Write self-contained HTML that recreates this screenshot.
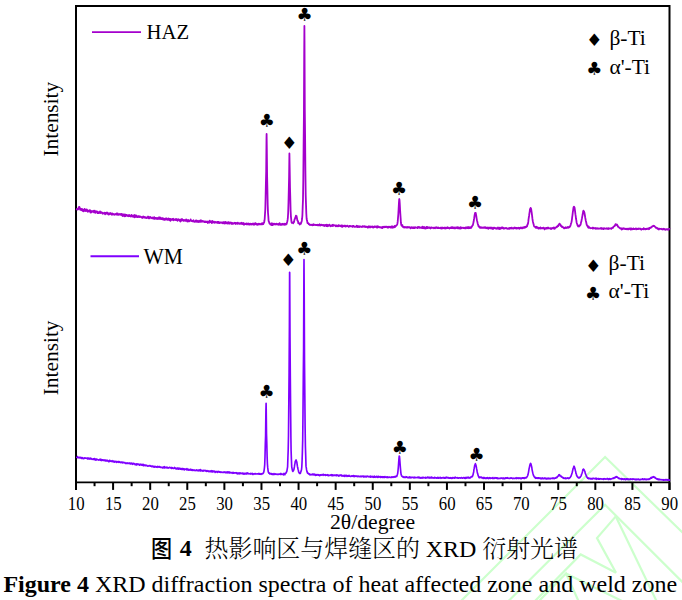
<!DOCTYPE html>
<html lang="zh">
<head>
<meta charset="utf-8">
<title>Figure 4 XRD diffraction spectra of heat affected zone and weld zone</title>
<style>
html,body{margin:0;padding:0;background:#fff;}
body{width:682px;height:600px;overflow:hidden;position:relative;
  font-family:"Liberation Serif","Noto Serif CJK SC",serif;color:#000;}
svg{position:absolute;left:0;top:0;display:block;}
svg text{font-family:"Liberation Serif","Noto Serif CJK SC",serif;fill:#000;}
svg text.sym{font-family:"DejaVu Sans","Liberation Serif",sans-serif;text-anchor:middle;}
.cap{position:absolute;white-space:pre;line-height:1;font-size:24px;}
.cap b{font-weight:bold;}
#cap-cn{left:150.8px;top:536.5px;letter-spacing:-0.07px;}
#cap-cn .tu{font-family:"Liberation Serif","Noto Sans CJK SC",sans-serif;font-weight:500;display:inline-block;width:23px;transform:scaleX(0.88);transform-origin:1px 50%;}
#cap-cn b{position:relative;top:-0.6px;margin-right:1px;}
#cap-cn .zh{font-weight:300;}
#cap-en{left:3.4px;top:571.9px;}
</style>
</head>
<body>
<svg width="682" height="600" viewBox="0 0 682 600">
<rect x="0" y="0" width="682" height="600" fill="#fff"/>

<g fill="none" stroke="#ccffcc" stroke-width="2.2" stroke-linejoin="miter">
<polyline points="461,601 605.1,457 683,533"/>
<polyline points="508.5,601 605.1,504.8 683,582.6"/>
<polyline points="615.8,516.4 597,538.1 616,572.8"/>
<polyline points="615.8,516.4 656.5,601"/>
<polyline points="535,601 580.7,554.4 616,572.8"/>
<polyline points="539,601 566,573.5 578.5,601"/>
<polyline points="566,573.5 622,601"/>
</g>
<!-- frame -->
<g stroke="#000" stroke-width="2" fill="none" stroke-linecap="butt">
<polyline points="76.00,489.9 76.00,6.0 669.50,6.0 669.50,489.9"/>
<line x1="76.00" y1="482.4" x2="669.50" y2="482.4" stroke-width="1.8"/>
<line x1="76.00" y1="482.4" x2="76.00" y2="489.9"/>
<line x1="113.09" y1="482.4" x2="113.09" y2="489.9"/>
<line x1="150.19" y1="482.4" x2="150.19" y2="489.9"/>
<line x1="187.28" y1="482.4" x2="187.28" y2="489.9"/>
<line x1="224.38" y1="482.4" x2="224.38" y2="489.9"/>
<line x1="261.47" y1="482.4" x2="261.47" y2="489.9"/>
<line x1="298.56" y1="482.4" x2="298.56" y2="489.9"/>
<line x1="335.66" y1="482.4" x2="335.66" y2="489.9"/>
<line x1="372.75" y1="482.4" x2="372.75" y2="489.9"/>
<line x1="409.84" y1="482.4" x2="409.84" y2="489.9"/>
<line x1="446.94" y1="482.4" x2="446.94" y2="489.9"/>
<line x1="484.03" y1="482.4" x2="484.03" y2="489.9"/>
<line x1="521.12" y1="482.4" x2="521.12" y2="489.9"/>
<line x1="558.22" y1="482.4" x2="558.22" y2="489.9"/>
<line x1="595.31" y1="482.4" x2="595.31" y2="489.9"/>
<line x1="632.41" y1="482.4" x2="632.41" y2="489.9"/>
<line x1="669.50" y1="482.4" x2="669.50" y2="489.9"/>
<line x1="94.55" y1="482.4" x2="94.55" y2="486.2"/>
<line x1="131.64" y1="482.4" x2="131.64" y2="486.2"/>
<line x1="168.73" y1="482.4" x2="168.73" y2="486.2"/>
<line x1="205.83" y1="482.4" x2="205.83" y2="486.2"/>
<line x1="242.92" y1="482.4" x2="242.92" y2="486.2"/>
<line x1="280.02" y1="482.4" x2="280.02" y2="486.2"/>
<line x1="317.11" y1="482.4" x2="317.11" y2="486.2"/>
<line x1="354.20" y1="482.4" x2="354.20" y2="486.2"/>
<line x1="391.30" y1="482.4" x2="391.30" y2="486.2"/>
<line x1="428.39" y1="482.4" x2="428.39" y2="486.2"/>
<line x1="465.48" y1="482.4" x2="465.48" y2="486.2"/>
<line x1="502.58" y1="482.4" x2="502.58" y2="486.2"/>
<line x1="539.67" y1="482.4" x2="539.67" y2="486.2"/>
<line x1="576.77" y1="482.4" x2="576.77" y2="486.2"/>
<line x1="613.86" y1="482.4" x2="613.86" y2="486.2"/>
<line x1="650.95" y1="482.4" x2="650.95" y2="486.2"/>
</g>
<!-- curves -->
<polyline fill="none" stroke="#a400cc" stroke-width="1.8" stroke-linejoin="round" points="76.6,210.25 76.9,208.98 77.2,209.31 77.5,209.56 77.8,208.87 78.1,209.33 78.4,209.08 78.7,207.18 79.0,207.55 79.3,206.92 79.6,207.26 79.9,208.79 80.2,209.79 80.5,209.50 80.8,209.56 81.1,208.88 81.3,210.12 81.6,209.91 81.9,210.04 82.2,209.01 82.5,210.95 82.8,210.10 83.1,209.83 83.4,211.30 83.7,210.12 84.0,209.33 84.3,210.00 84.6,208.93 84.9,210.95 85.2,210.13 85.5,209.98 85.8,211.10 86.1,209.54 86.4,210.88 86.7,209.39 87.0,210.26 87.3,209.99 87.6,211.61 87.9,211.83 88.2,210.64 88.5,211.38 88.8,210.82 89.1,211.31 89.4,210.58 89.7,210.06 90.0,210.05 90.3,211.38 90.5,212.52 90.8,211.40 91.1,210.98 91.4,212.45 91.7,211.52 92.0,211.48 92.3,211.61 92.6,211.43 92.9,211.37 93.2,210.76 93.5,211.93 93.8,211.62 94.1,212.42 94.4,211.55 94.7,210.69 95.0,211.79 95.3,212.88 95.6,211.70 95.9,211.45 96.2,211.31 96.5,211.44 96.8,211.91 97.1,211.44 97.4,213.03 97.7,212.04 98.0,212.30 98.3,213.11 98.6,213.19 98.9,212.23 99.2,212.58 99.5,212.85 99.7,212.35 100.0,211.47 100.3,212.92 100.6,213.09 100.9,212.85 101.2,212.11 101.5,212.57 101.8,212.38 102.1,212.58 102.4,213.54 102.7,213.71 103.0,213.25 103.3,213.21 103.6,213.32 103.9,212.96 104.2,212.96 104.5,212.65 104.8,213.04 105.1,214.41 105.4,213.64 105.7,212.98 106.0,212.94 106.3,212.75 106.6,213.50 106.9,213.54 107.2,212.53 107.5,213.67 107.8,213.10 108.1,214.27 108.4,213.58 108.6,214.51 108.9,213.30 109.2,213.43 109.5,213.80 109.8,214.27 110.1,214.02 110.4,213.03 110.7,213.87 111.0,213.81 111.3,213.59 111.6,213.50 111.9,214.89 112.2,213.71 112.5,213.49 112.8,214.36 113.1,214.11 113.4,214.03 113.7,214.54 114.0,214.41 114.3,214.37 114.6,214.75 114.9,214.39 115.2,213.92 115.5,214.09 115.8,214.04 116.1,214.48 116.4,213.79 116.7,213.40 117.0,214.51 117.3,213.74 117.6,213.43 117.8,214.77 118.1,214.19 118.4,214.90 118.7,214.35 119.0,214.05 119.3,214.02 119.6,214.46 119.9,214.62 120.2,214.35 120.5,214.68 120.8,214.01 121.1,214.91 121.4,213.93 121.7,214.85 122.0,215.38 122.3,215.63 122.6,216.01 122.9,214.22 123.2,215.54 123.5,215.82 123.8,215.72 124.1,214.69 124.4,215.46 124.7,216.30 125.0,214.46 125.3,215.59 125.6,215.97 125.9,215.00 126.2,215.74 126.5,214.85 126.8,215.02 127.0,215.05 127.3,215.64 127.6,215.51 127.9,216.12 128.2,215.10 128.5,215.58 128.8,216.21 129.1,216.02 129.4,215.01 129.7,216.14 130.0,215.54 130.3,216.04 130.6,216.03 130.9,216.56 131.2,215.98 131.5,214.93 131.8,215.23 132.1,216.41 132.4,215.90 132.7,216.69 133.0,216.25 133.3,215.72 133.6,216.75 133.9,215.74 134.2,215.09 134.5,217.38 134.8,215.23 135.1,216.65 135.4,216.85 135.7,216.44 135.9,215.47 136.2,216.98 136.5,215.67 136.8,215.75 137.1,216.32 137.4,216.97 137.7,216.74 138.0,217.04 138.3,216.39 138.6,216.57 138.9,216.07 139.2,216.55 139.5,217.07 139.8,216.62 140.1,217.07 140.4,216.53 140.7,216.54 141.0,216.92 141.3,216.82 141.6,217.27 141.9,217.08 142.2,217.95 142.5,216.92 142.8,216.94 143.1,216.53 143.4,217.14 143.7,217.52 144.0,216.78 144.3,217.18 144.6,217.62 144.9,217.19 145.1,217.01 145.4,217.84 145.7,217.40 146.0,217.58 146.3,218.03 146.6,218.04 146.9,217.26 147.2,217.19 147.5,217.65 147.8,217.46 148.1,216.54 148.4,218.26 148.7,217.62 149.0,218.03 149.3,217.03 149.6,218.37 149.9,217.39 150.2,217.68 150.5,217.01 150.8,217.70 151.1,217.69 151.4,217.74 151.7,218.09 152.0,217.92 152.3,218.43 152.6,217.69 152.9,217.43 153.2,217.97 153.5,218.34 153.8,218.69 154.1,218.49 154.3,217.15 154.6,218.31 154.9,218.91 155.2,218.19 155.5,217.91 155.8,218.37 156.1,217.97 156.4,218.60 156.7,218.28 157.0,219.04 157.3,218.60 157.6,217.98 157.9,218.70 158.2,218.90 158.5,218.13 158.8,218.23 159.1,217.27 159.4,218.98 159.7,218.22 160.0,217.44 160.3,217.66 160.6,218.49 160.9,219.03 161.2,218.61 161.5,218.93 161.8,218.13 162.1,218.03 162.4,219.22 162.7,219.04 163.0,218.79 163.3,219.50 163.5,218.36 163.8,218.66 164.1,219.44 164.4,219.89 164.7,218.96 165.0,219.85 165.3,218.69 165.6,219.20 165.9,218.96 166.2,218.25 166.5,219.24 166.8,219.61 167.1,219.07 167.4,219.14 167.7,219.92 168.0,218.58 168.3,218.47 168.6,218.93 168.9,218.68 169.2,220.01 169.5,219.50 169.8,218.92 170.1,219.07 170.4,220.88 170.7,219.12 171.0,219.06 171.3,219.64 171.6,219.83 171.9,219.64 172.2,219.08 172.4,218.97 172.7,219.90 173.0,219.59 173.3,218.79 173.6,220.26 173.9,220.08 174.2,219.58 174.5,219.59 174.8,219.86 175.1,219.41 175.4,219.10 175.7,219.97 176.0,219.10 176.3,220.05 176.6,219.14 176.9,219.84 177.2,219.85 177.5,220.85 177.8,219.42 178.1,219.26 178.4,219.67 178.7,219.45 179.0,219.75 179.3,220.28 179.6,220.48 179.9,220.95 180.2,219.76 180.5,221.49 180.8,221.18 181.1,220.09 181.4,219.06 181.7,220.20 181.9,220.30 182.2,219.12 182.5,220.34 182.8,220.22 183.1,219.95 183.4,220.68 183.7,220.89 184.0,220.16 184.3,220.55 184.6,220.12 184.9,220.08 185.2,220.53 185.5,220.78 185.8,220.25 186.1,219.45 186.4,220.87 186.7,219.80 187.0,220.68 187.3,221.53 187.6,220.66 187.9,220.09 188.2,219.98 188.5,221.31 188.8,220.74 189.1,221.04 189.4,221.25 189.7,220.79 190.0,220.68 190.3,220.38 190.6,219.34 190.8,220.14 191.1,220.88 191.4,220.85 191.7,221.16 192.0,220.92 192.3,221.08 192.6,221.41 192.9,220.60 193.2,220.92 193.5,220.28 193.8,221.58 194.1,221.14 194.4,221.38 194.7,221.92 195.0,221.71 195.3,221.16 195.6,221.60 195.9,220.53 196.2,221.46 196.5,221.34 196.8,220.49 197.1,221.96 197.4,220.98 197.7,221.68 198.0,221.15 198.3,221.86 198.6,222.04 198.9,221.00 199.2,220.68 199.5,221.38 199.8,221.88 200.0,221.30 200.3,221.20 200.6,221.75 200.9,220.18 201.2,221.22 201.5,220.89 201.8,221.72 202.1,221.24 202.4,221.07 202.7,221.46 203.0,220.93 203.3,221.66 203.6,221.35 203.9,221.51 204.2,221.37 204.5,222.17 204.8,221.69 205.1,222.02 205.4,222.01 205.7,221.41 206.0,222.09 206.3,222.00 206.6,222.00 206.9,221.67 207.2,221.67 207.5,222.28 207.8,222.96 208.1,221.53 208.4,222.20 208.7,221.79 209.0,222.36 209.2,222.21 209.5,222.52 209.8,220.69 210.1,221.76 210.4,221.59 210.7,222.03 211.0,221.75 211.3,221.81 211.6,222.46 211.9,223.05 212.2,220.81 212.5,222.03 212.8,222.34 213.1,222.21 213.4,222.06 213.7,221.60 214.0,221.81 214.3,222.62 214.6,222.81 214.9,222.36 215.2,221.93 215.5,222.39 215.8,222.25 216.1,222.64 216.4,222.45 216.7,222.11 217.0,222.52 217.3,221.88 217.6,222.85 217.9,223.03 218.2,221.93 218.4,222.70 218.7,222.05 219.0,223.04 219.3,222.98 219.6,222.46 219.9,223.05 220.2,222.40 220.5,222.31 220.8,222.36 221.1,222.58 221.4,222.51 221.7,222.75 222.0,222.41 222.3,223.07 222.6,223.20 222.9,222.51 223.2,222.09 223.5,223.11 223.8,223.32 224.1,222.72 224.4,222.21 224.7,222.96 225.0,223.56 225.3,221.99 225.6,223.10 225.9,222.74 226.2,222.51 226.5,223.15 226.8,222.33 227.1,223.09 227.3,223.57 227.6,223.06 227.9,222.59 228.2,222.18 228.5,222.43 228.8,222.19 229.1,223.79 229.4,222.95 229.7,222.60 230.0,222.50 230.3,222.62 230.6,222.97 230.9,222.55 231.2,223.93 231.5,222.83 231.8,222.83 232.1,223.34 232.4,223.88 232.7,223.84 233.0,223.02 233.3,223.38 233.6,223.34 233.9,223.53 234.2,223.42 234.5,222.89 234.8,222.76 235.1,223.43 235.4,222.82 235.7,224.00 236.0,223.41 236.3,222.94 236.5,223.27 236.8,223.20 237.1,223.38 237.4,223.89 237.7,222.81 238.0,222.63 238.3,223.65 238.6,223.43 238.9,223.59 239.2,223.73 239.5,223.46 239.8,223.92 240.1,223.16 240.4,223.61 240.7,223.21 241.0,223.09 241.3,223.89 241.6,223.88 241.9,222.76 242.2,223.14 242.5,223.78 242.8,224.14 243.1,223.37 243.4,223.60 243.7,223.05 244.0,224.83 244.3,223.92 244.6,224.12 244.9,224.02 245.2,224.15 245.5,224.02 245.7,223.60 246.0,224.09 246.3,223.80 246.6,224.36 246.9,223.46 247.2,223.55 247.5,224.10 247.8,224.38 248.1,223.88 248.4,223.51 248.7,223.78 249.0,223.62 249.3,224.69 249.6,224.26 249.9,224.43 250.2,224.01 250.5,223.64 250.8,224.41 251.1,224.63 251.4,224.16 251.7,223.90 252.0,224.40 252.3,223.77 252.6,224.28 252.9,223.63 253.2,223.53 253.5,224.21 253.8,224.12 254.1,224.82 254.4,223.86 254.7,224.01 254.9,223.50 255.2,223.19 255.5,223.24 255.8,224.23 256.1,223.52 256.4,224.54 256.7,224.67 257.0,223.93 257.3,224.79 257.6,224.17 257.9,224.57 258.2,223.99 258.5,224.51 258.8,223.69 259.1,224.38 259.4,223.92 259.7,224.07 260.0,224.40 260.3,224.19 260.6,224.07 260.9,224.39 261.2,224.41 261.5,223.43 261.8,224.26 262.1,224.29 262.4,223.55 262.7,223.92 263.0,223.04 263.3,224.12 263.6,223.04 263.8,222.73 264.1,222.62 264.4,221.04 264.7,218.81 265.0,214.03 265.3,209.42 265.6,197.25 265.9,183.00 266.2,171.03 266.5,138.51 266.6,133.94 266.8,147.75 267.1,175.46 267.4,189.34 267.7,204.65 268.0,212.75 268.3,216.29 268.6,220.87 268.9,221.55 269.2,222.60 269.5,223.59 269.8,223.15 270.1,223.73 270.4,224.48 270.7,223.97 271.0,224.37 271.3,223.88 271.6,225.01 271.9,223.23 272.2,223.74 272.5,223.81 272.8,224.99 273.0,224.47 273.3,224.22 273.6,223.78 273.9,224.49 274.2,224.39 274.5,224.05 274.8,223.71 275.1,223.88 275.4,224.45 275.7,224.49 276.0,224.39 276.3,224.30 276.6,223.61 276.9,224.39 277.2,223.93 277.5,224.40 277.8,224.58 278.1,224.10 278.4,223.95 278.7,224.82 279.0,224.55 279.3,224.13 279.6,223.12 279.9,224.38 280.2,224.68 280.5,224.89 280.8,224.12 281.1,224.14 281.4,224.23 281.7,224.78 282.0,223.93 282.2,224.38 282.5,224.04 282.8,224.55 283.1,223.76 283.4,224.56 283.7,224.17 284.0,224.27 284.3,224.57 284.6,224.81 284.9,223.58 285.2,224.62 285.5,224.33 285.8,223.86 286.1,224.48 286.4,223.65 286.7,223.82 287.0,222.39 287.3,221.48 287.6,219.94 287.9,217.31 288.2,211.94 288.5,202.03 288.8,189.82 289.1,176.56 289.4,153.80 289.4,153.51 289.7,169.16 290.0,187.59 290.3,197.91 290.6,210.05 290.9,216.06 291.1,218.05 291.4,221.43 291.7,222.92 292.0,222.96 292.3,222.66 292.6,222.76 292.9,222.36 293.2,223.31 293.5,222.26 293.8,222.49 294.1,221.65 294.4,220.05 294.7,219.11 295.0,218.69 295.3,217.50 295.6,216.89 295.9,215.69 296.0,216.84 296.2,216.11 296.5,215.95 296.8,217.49 297.1,218.93 297.4,220.72 297.7,220.64 298.0,221.12 298.3,223.33 298.6,223.03 298.9,223.26 299.2,223.18 299.5,223.38 299.8,224.53 300.1,223.71 300.4,223.37 300.6,223.13 300.9,223.76 301.2,222.31 301.5,222.01 301.8,220.88 302.1,218.73 302.4,215.40 302.7,206.88 303.0,199.34 303.3,179.39 303.6,145.94 303.9,116.16 304.2,53.17 304.4,25.89 304.5,40.52 304.8,109.29 305.1,136.49 305.4,170.89 305.7,194.91 306.0,204.20 306.3,213.22 306.6,218.52 306.9,220.29 307.2,221.29 307.5,223.01 307.8,223.05 308.1,223.23 308.4,223.18 308.7,224.14 309.0,223.96 309.3,224.25 309.5,224.72 309.8,224.61 310.1,225.08 310.4,224.86 310.7,224.63 311.0,224.70 311.3,224.64 311.6,225.12 311.9,224.87 312.2,224.70 312.5,225.23 312.8,224.93 313.1,224.71 313.4,224.28 313.7,225.10 314.0,225.03 314.3,224.96 314.6,224.77 314.9,224.61 315.2,224.88 315.5,225.07 315.8,224.94 316.1,224.94 316.4,224.82 316.7,225.16 317.0,225.13 317.3,224.73 317.6,225.36 317.9,225.39 318.2,225.41 318.5,225.03 318.7,225.01 319.0,224.63 319.3,225.43 319.6,224.25 319.9,224.98 320.2,225.01 320.5,225.51 320.8,225.17 321.1,224.78 321.4,224.60 321.7,224.90 322.0,225.25 322.3,225.24 322.6,225.15 322.9,224.96 323.2,225.17 323.5,225.67 323.8,224.82 324.1,225.30 324.4,225.96 324.7,225.53 325.0,225.13 325.3,225.60 325.6,225.03 325.9,225.35 326.2,225.99 326.5,226.14 326.8,224.68 327.1,225.67 327.4,226.19 327.7,225.19 327.9,225.52 328.2,226.04 328.5,225.24 328.8,225.63 329.1,225.44 329.4,224.69 329.7,225.62 330.0,225.42 330.3,225.88 330.6,226.36 330.9,225.80 331.2,225.38 331.5,225.73 331.8,225.64 332.1,225.98 332.4,224.99 332.7,225.11 333.0,224.77 333.3,225.85 333.6,225.61 333.9,225.37 334.2,225.34 334.5,225.42 334.8,225.28 335.1,225.54 335.4,225.48 335.7,226.25 336.0,225.83 336.3,225.38 336.6,225.49 336.9,226.22 337.1,225.92 337.4,225.87 337.7,226.05 338.0,226.41 338.3,225.29 338.6,225.49 338.9,225.10 339.2,226.01 339.5,225.67 339.8,225.56 340.1,225.54 340.4,226.13 340.7,225.81 341.0,225.66 341.3,226.39 341.6,225.48 341.9,225.40 342.2,226.96 342.5,225.78 342.8,225.72 343.1,225.66 343.4,225.90 343.7,226.28 344.0,226.28 344.3,226.21 344.6,225.89 344.9,225.41 345.2,226.13 345.5,226.64 345.8,226.47 346.0,225.98 346.3,226.38 346.6,225.92 346.9,226.06 347.2,225.60 347.5,225.98 347.8,226.17 348.1,226.05 348.4,226.44 348.7,226.89 349.0,226.68 349.3,226.04 349.6,225.88 349.9,225.92 350.2,225.80 350.5,226.21 350.8,226.38 351.1,226.29 351.4,226.30 351.7,226.30 352.0,226.19 352.3,225.96 352.6,226.95 352.9,226.69 353.2,225.92 353.5,225.93 353.8,226.07 354.1,226.32 354.4,226.82 354.7,226.73 355.0,226.76 355.2,226.78 355.5,226.79 355.8,226.66 356.1,226.55 356.4,226.33 356.7,225.70 357.0,226.35 357.3,227.12 357.6,226.20 357.9,226.18 358.2,226.84 358.5,226.48 358.8,226.26 359.1,227.08 359.4,226.72 359.7,226.78 360.0,226.26 360.3,226.69 360.6,226.65 360.9,226.82 361.2,226.98 361.5,226.97 361.8,226.61 362.1,226.82 362.4,226.11 362.7,226.82 363.0,226.84 363.3,226.43 363.6,226.29 363.9,226.58 364.2,226.13 364.4,226.75 364.7,226.74 365.0,226.26 365.3,226.66 365.6,227.07 365.9,227.08 366.2,227.07 366.5,226.62 366.8,226.56 367.1,226.54 367.4,226.94 367.7,227.64 368.0,227.27 368.3,227.35 368.6,227.27 368.9,226.12 369.2,226.68 369.5,226.60 369.8,227.26 370.1,227.44 370.4,226.53 370.7,226.82 371.0,227.03 371.3,226.63 371.6,226.58 371.9,226.57 372.2,227.19 372.5,226.50 372.8,227.30 373.1,226.90 373.4,227.17 373.6,227.49 373.9,226.63 374.2,226.58 374.5,227.08 374.8,226.52 375.1,226.64 375.4,226.89 375.7,227.00 376.0,226.47 376.3,226.81 376.6,227.19 376.9,227.50 377.2,226.22 377.5,227.50 377.8,227.34 378.1,226.59 378.4,226.45 378.7,227.19 379.0,226.87 379.3,227.09 379.6,227.38 379.9,226.91 380.2,227.13 380.5,227.26 380.8,227.42 381.1,227.77 381.4,227.75 381.7,227.20 382.0,227.02 382.3,228.03 382.5,227.37 382.8,227.30 383.1,226.72 383.4,227.44 383.7,226.85 384.0,226.98 384.3,226.65 384.6,226.97 384.9,227.20 385.2,226.61 385.5,226.85 385.8,227.16 386.1,226.72 386.4,226.72 386.7,226.89 387.0,226.67 387.3,227.45 387.6,226.84 387.9,227.51 388.2,227.57 388.5,226.76 388.8,227.24 389.1,227.04 389.4,226.79 389.7,227.09 390.0,227.12 390.3,227.48 390.6,227.60 390.9,226.78 391.2,227.04 391.5,227.39 391.7,227.62 392.0,226.23 392.3,227.63 392.6,227.06 392.9,227.69 393.2,226.91 393.5,226.73 393.8,227.02 394.1,227.41 394.4,226.92 394.7,225.94 395.0,227.03 395.3,226.06 395.6,226.18 395.9,225.96 396.2,225.50 396.5,225.46 396.8,225.15 397.1,224.64 397.4,223.73 397.7,221.70 398.0,218.16 398.3,214.28 398.6,209.23 398.9,203.48 399.2,199.22 399.3,198.99 399.5,199.84 399.8,204.26 400.1,210.21 400.4,214.77 400.7,219.08 400.9,222.72 401.2,224.56 401.5,225.61 401.8,224.73 402.1,225.95 402.4,225.05 402.7,226.77 403.0,226.67 403.3,226.79 403.6,226.81 403.9,227.44 404.2,226.90 404.5,227.47 404.8,227.33 405.1,227.30 405.4,227.38 405.7,227.28 406.0,226.86 406.3,227.56 406.6,227.59 406.9,227.28 407.2,227.63 407.5,227.71 407.8,226.91 408.1,227.35 408.4,227.25 408.7,227.09 409.0,227.57 409.3,227.14 409.6,227.30 409.9,227.57 410.1,227.62 410.4,227.61 410.7,228.34 411.0,227.32 411.3,227.61 411.6,227.07 411.9,227.71 412.2,227.97 412.5,228.00 412.8,227.31 413.1,227.45 413.4,228.03 413.7,227.53 414.0,227.93 414.3,227.21 414.6,228.10 414.9,227.97 415.2,227.77 415.5,227.30 415.8,227.54 416.1,227.66 416.4,227.71 416.7,227.58 417.0,227.54 417.3,227.70 417.6,228.15 417.9,226.89 418.2,227.13 418.5,227.07 418.8,227.39 419.1,227.00 419.3,227.86 419.6,227.69 419.9,227.57 420.2,227.41 420.5,227.73 420.8,227.74 421.1,227.80 421.4,227.41 421.7,227.92 422.0,227.14 422.3,228.15 422.6,226.55 422.9,227.48 423.2,227.25 423.5,227.99 423.8,227.16 424.1,228.38 424.4,227.14 424.7,228.46 425.0,227.88 425.3,227.73 425.6,227.89 425.9,228.54 426.2,228.06 426.5,226.91 426.8,228.18 427.1,227.83 427.4,227.15 427.7,228.03 428.0,227.30 428.2,227.82 428.5,227.84 428.8,227.52 429.1,228.00 429.4,227.39 429.7,227.84 430.0,227.57 430.3,227.70 430.6,228.48 430.9,227.82 431.2,227.38 431.5,227.74 431.8,227.50 432.1,227.79 432.4,227.85 432.7,227.82 433.0,227.82 433.3,227.59 433.6,227.96 433.9,228.18 434.2,227.57 434.5,227.78 434.8,227.82 435.1,228.26 435.4,228.20 435.7,227.54 436.0,227.84 436.3,227.27 436.6,227.46 436.9,227.82 437.2,228.04 437.4,228.16 437.7,227.71 438.0,227.33 438.3,227.97 438.6,227.76 438.9,227.98 439.2,227.89 439.5,228.09 439.8,228.07 440.1,228.14 440.4,227.67 440.7,228.20 441.0,227.65 441.3,227.87 441.6,228.51 441.9,227.97 442.2,227.42 442.5,228.38 442.8,228.21 443.1,228.26 443.4,227.92 443.7,227.98 444.0,227.77 444.3,227.60 444.6,228.41 444.9,227.72 445.2,227.68 445.5,227.70 445.8,228.53 446.1,228.18 446.4,227.73 446.6,227.85 446.9,228.05 447.2,228.18 447.5,227.29 447.8,228.20 448.1,227.79 448.4,227.63 448.7,227.73 449.0,228.16 449.3,228.51 449.6,227.93 449.9,228.08 450.2,227.59 450.5,228.06 450.8,228.18 451.1,227.35 451.4,227.70 451.7,228.17 452.0,227.26 452.3,227.75 452.6,228.10 452.9,227.29 453.2,227.75 453.5,227.91 453.8,228.21 454.1,227.44 454.4,228.29 454.7,228.00 455.0,228.32 455.3,228.31 455.6,228.02 455.8,228.07 456.1,227.28 456.4,227.42 456.7,227.54 457.0,227.78 457.3,228.23 457.6,227.27 457.9,227.79 458.2,227.43 458.5,227.35 458.8,228.42 459.1,227.94 459.4,228.48 459.7,228.32 460.0,227.57 460.3,227.24 460.6,228.63 460.9,227.75 461.2,227.49 461.5,228.14 461.8,227.94 462.1,227.65 462.4,227.77 462.7,227.94 463.0,227.91 463.3,228.15 463.6,227.75 463.9,227.75 464.2,228.08 464.5,227.98 464.7,228.25 465.0,227.77 465.3,227.82 465.6,227.44 465.9,228.37 466.2,227.34 466.5,227.89 466.8,227.49 467.1,227.92 467.4,228.05 467.7,227.19 468.0,227.68 468.3,227.12 468.6,228.21 468.9,227.53 469.2,227.11 469.5,227.38 469.8,228.05 470.1,228.07 470.4,227.93 470.7,227.13 471.0,227.26 471.3,227.75 471.6,226.71 471.9,226.55 472.2,225.92 472.5,225.26 472.8,225.34 473.1,224.11 473.4,222.77 473.7,221.30 473.9,219.77 474.2,218.16 474.5,215.82 474.8,214.20 475.1,212.93 475.4,213.49 475.4,212.84 475.7,212.90 476.0,214.53 476.3,216.20 476.6,218.30 476.9,220.16 477.2,221.18 477.5,222.62 477.8,224.02 478.1,224.68 478.4,225.82 478.7,226.56 479.0,226.80 479.3,226.49 479.6,226.83 479.9,227.83 480.2,227.13 480.5,227.81 480.8,227.83 481.1,227.55 481.4,227.35 481.7,227.81 482.0,227.46 482.3,227.73 482.6,227.85 482.9,227.59 483.1,227.78 483.4,227.77 483.7,227.46 484.0,227.84 484.3,227.70 484.6,227.30 484.9,227.82 485.2,227.85 485.5,227.75 485.8,227.26 486.1,228.25 486.4,228.22 486.7,228.22 487.0,228.11 487.3,227.57 487.6,228.05 487.9,227.70 488.2,228.78 488.5,227.85 488.8,228.26 489.1,227.51 489.4,227.64 489.7,227.86 490.0,228.29 490.3,228.24 490.6,228.16 490.9,227.43 491.2,228.45 491.5,227.75 491.8,228.63 492.1,228.72 492.3,228.36 492.6,228.42 492.9,227.66 493.2,228.97 493.5,228.17 493.8,228.44 494.1,227.81 494.4,228.08 494.7,227.70 495.0,228.02 495.3,228.11 495.6,228.20 495.9,228.59 496.2,228.28 496.5,228.20 496.8,228.13 497.1,228.80 497.4,227.93 497.7,228.53 498.0,227.46 498.3,227.83 498.6,228.27 498.9,228.08 499.2,229.15 499.5,229.01 499.8,227.62 500.1,227.78 500.4,228.09 500.7,228.73 501.0,228.53 501.2,228.25 501.5,227.67 501.8,227.86 502.1,227.24 502.4,227.63 502.7,228.29 503.0,228.42 503.3,227.71 503.6,228.19 503.9,228.70 504.2,228.21 504.5,228.05 504.8,228.36 505.1,228.33 505.4,228.18 505.7,227.98 506.0,228.02 506.3,228.19 506.6,227.98 506.9,228.61 507.2,228.46 507.5,228.53 507.8,228.84 508.1,228.69 508.4,228.64 508.7,228.29 509.0,228.10 509.3,228.93 509.6,227.94 509.9,227.95 510.2,227.87 510.4,228.23 510.7,228.30 511.0,228.50 511.3,228.08 511.6,227.58 511.9,228.26 512.2,228.48 512.5,228.17 512.8,228.11 513.1,228.34 513.4,228.63 513.7,228.13 514.0,227.68 514.3,227.96 514.6,228.09 514.9,227.54 515.2,228.40 515.5,227.88 515.8,228.30 516.1,228.20 516.4,228.02 516.7,228.67 517.0,227.93 517.3,227.89 517.6,228.21 517.9,228.38 518.2,228.10 518.5,227.77 518.8,228.32 519.1,228.28 519.4,228.76 519.6,227.99 519.9,228.13 520.2,227.86 520.5,227.54 520.8,228.05 521.1,228.29 521.4,227.66 521.7,227.76 522.0,227.57 522.3,228.39 522.6,227.71 522.9,228.09 523.2,227.58 523.5,227.86 523.8,227.59 524.1,226.98 524.4,227.74 524.7,227.83 525.0,226.90 525.3,227.45 525.6,227.26 525.9,226.90 526.2,226.99 526.5,226.15 526.8,226.51 527.1,226.31 527.4,224.78 527.7,224.26 528.0,223.59 528.3,221.66 528.5,219.67 528.8,217.51 529.1,215.73 529.4,213.38 529.7,211.59 530.0,208.99 530.3,208.87 530.6,207.92 530.6,208.35 530.9,208.31 531.2,209.37 531.5,211.49 531.8,213.50 532.1,215.95 532.4,218.48 532.7,220.60 533.0,222.00 533.3,223.16 533.6,224.34 533.9,225.57 534.2,226.42 534.5,226.42 534.8,226.84 535.1,226.89 535.4,227.39 535.7,227.77 536.0,226.61 536.3,227.72 536.6,227.52 536.9,227.00 537.2,227.91 537.5,227.82 537.8,228.00 538.0,227.47 538.3,228.63 538.6,228.00 538.9,227.88 539.2,228.50 539.5,228.24 539.8,228.31 540.1,228.44 540.4,227.41 540.7,228.63 541.0,227.99 541.3,228.20 541.6,228.42 541.9,227.90 542.2,228.24 542.5,228.39 542.8,228.14 543.1,228.32 543.4,227.65 543.7,227.79 544.0,227.81 544.3,228.30 544.6,229.39 544.9,228.28 545.2,228.15 545.5,228.18 545.8,228.52 546.1,228.43 546.4,227.84 546.7,228.53 546.9,228.20 547.2,228.47 547.5,227.57 547.8,227.72 548.1,228.41 548.4,227.64 548.7,228.34 549.0,228.32 549.3,228.26 549.6,228.33 549.9,228.30 550.2,228.35 550.5,228.08 550.8,228.20 551.1,229.13 551.4,228.56 551.7,228.39 552.0,228.31 552.3,227.95 552.6,228.25 552.9,228.09 553.2,228.45 553.5,227.85 553.8,227.37 554.1,227.92 554.4,228.29 554.7,228.82 555.0,228.31 555.3,227.60 555.6,227.75 555.9,227.40 556.1,227.49 556.4,227.06 556.7,226.58 557.0,226.96 557.3,226.54 557.6,226.05 557.9,225.83 558.2,225.98 558.5,224.98 558.8,224.49 559.1,224.67 559.4,223.72 559.5,224.51 559.7,224.04 560.0,224.18 560.3,224.75 560.6,225.61 560.9,225.20 561.2,226.14 561.5,226.34 561.8,226.12 562.1,227.16 562.4,226.87 562.7,226.88 563.0,227.26 563.3,227.41 563.6,227.93 563.9,227.58 564.2,228.33 564.5,227.95 564.8,227.68 565.1,227.65 565.3,227.98 565.6,227.26 565.9,227.20 566.2,227.59 566.5,228.04 566.8,227.87 567.1,227.79 567.4,227.67 567.7,227.01 568.0,227.53 568.3,227.00 568.6,227.73 568.9,227.35 569.2,227.16 569.5,227.10 569.8,226.78 570.1,226.34 570.4,225.81 570.7,224.75 571.0,223.50 571.3,222.79 571.6,221.60 571.9,219.60 572.2,217.06 572.5,215.05 572.8,212.30 573.1,210.33 573.4,208.01 573.7,206.92 574.0,207.04 574.0,206.55 574.2,207.14 574.5,207.40 574.8,209.20 575.1,211.61 575.4,214.17 575.7,216.21 576.0,218.79 576.3,220.17 576.6,222.43 576.9,223.62 577.2,223.97 577.5,225.29 577.8,225.59 578.1,226.37 578.4,226.10 578.7,226.47 579.0,226.54 579.3,225.39 579.6,225.43 579.9,225.71 580.2,225.12 580.5,224.80 580.8,223.68 581.1,222.11 581.4,221.36 581.7,219.55 582.0,218.14 582.3,216.38 582.6,215.04 582.9,212.92 583.2,211.84 583.4,210.69 583.7,212.09 583.7,210.95 584.0,211.40 584.3,212.23 584.6,213.75 584.9,215.41 585.2,217.47 585.5,219.01 585.8,220.66 586.1,221.80 586.4,223.23 586.7,224.71 587.0,225.19 587.3,225.99 587.6,225.80 587.9,227.01 588.2,227.24 588.5,227.79 588.8,226.72 589.1,227.71 589.4,227.76 589.7,227.91 590.0,227.76 590.3,228.07 590.6,228.26 590.9,228.10 591.2,228.04 591.5,228.10 591.8,228.07 592.1,228.23 592.4,228.02 592.6,227.66 592.9,228.69 593.2,227.77 593.5,228.29 593.8,227.94 594.1,228.27 594.4,228.08 594.7,228.37 595.0,228.14 595.3,228.01 595.6,228.51 595.9,228.83 596.2,228.54 596.5,228.48 596.8,228.14 597.1,228.44 597.4,228.60 597.7,228.28 598.0,228.75 598.3,228.48 598.6,228.60 598.9,228.36 599.2,228.36 599.5,228.58 599.8,228.64 600.1,228.63 600.4,228.23 600.7,228.32 601.0,228.54 601.3,227.99 601.6,228.86 601.8,228.65 602.1,228.57 602.4,228.35 602.7,228.81 603.0,228.49 603.3,229.14 603.6,228.69 603.9,228.14 604.2,228.80 604.5,228.43 604.8,228.43 605.1,228.52 605.4,228.55 605.7,228.66 606.0,228.82 606.3,228.73 606.6,228.38 606.9,228.19 607.2,228.35 607.5,228.69 607.8,228.84 608.1,229.11 608.4,228.18 608.7,228.60 609.0,228.50 609.3,228.44 609.6,228.59 609.9,228.46 610.2,228.43 610.5,228.30 610.8,228.57 611.0,228.72 611.3,228.82 611.6,228.11 611.9,227.84 612.2,227.94 612.5,227.61 612.8,227.96 613.1,227.17 613.4,227.15 613.7,226.41 614.0,226.37 614.3,226.17 614.6,226.21 614.9,225.18 615.2,225.18 615.5,224.18 615.8,224.28 616.1,224.34 616.1,224.44 616.4,224.78 616.7,225.01 617.0,224.59 617.3,225.56 617.6,225.42 617.9,226.68 618.2,226.60 618.5,226.90 618.8,227.12 619.1,227.46 619.4,227.72 619.7,227.73 619.9,228.32 620.2,228.33 620.5,228.58 620.8,228.43 621.1,228.72 621.4,228.36 621.7,229.65 622.0,228.45 622.3,228.55 622.6,228.98 622.9,229.08 623.2,228.51 623.5,228.27 623.8,228.36 624.1,228.49 624.4,228.56 624.7,228.75 625.0,229.10 625.3,229.12 625.6,228.64 625.9,228.98 626.2,229.09 626.5,229.25 626.8,228.80 627.1,228.64 627.4,229.08 627.7,229.30 628.0,228.72 628.3,229.44 628.6,229.37 628.9,228.81 629.1,228.44 629.4,228.73 629.7,228.80 630.0,229.06 630.3,228.43 630.6,229.61 630.9,229.59 631.2,228.71 631.5,228.39 631.8,228.88 632.1,229.05 632.4,229.32 632.7,229.14 633.0,228.89 633.3,228.39 633.6,229.10 633.9,229.19 634.2,228.87 634.5,229.04 634.8,229.02 635.1,228.90 635.4,228.64 635.7,229.07 636.0,228.57 636.3,229.37 636.6,228.73 636.9,229.12 637.2,228.78 637.5,229.09 637.8,228.93 638.1,229.14 638.3,228.77 638.6,228.54 638.9,228.92 639.2,228.90 639.5,228.58 639.8,228.81 640.1,228.53 640.4,229.04 640.7,228.90 641.0,229.01 641.3,229.74 641.6,229.06 641.9,229.12 642.2,229.19 642.5,228.97 642.8,228.85 643.1,229.26 643.4,229.30 643.7,228.19 644.0,228.96 644.3,228.91 644.6,228.84 644.9,229.35 645.2,228.84 645.5,229.23 645.8,228.83 646.1,228.85 646.4,229.16 646.7,228.73 647.0,228.87 647.2,228.58 647.5,228.61 647.8,229.01 648.1,228.92 648.4,228.37 648.7,228.27 649.0,229.22 649.3,228.21 649.6,228.01 649.9,228.24 650.2,227.70 650.5,227.63 650.8,227.77 651.1,227.58 651.4,227.02 651.7,227.23 652.0,226.58 652.3,226.35 652.6,226.24 652.9,226.02 653.2,226.18 653.5,226.08 653.5,225.77 653.8,226.08 654.1,225.95 654.4,226.08 654.7,226.38 655.0,226.92 655.3,226.93 655.6,227.45 655.9,227.76 656.2,227.54 656.5,227.60 656.7,227.75 657.0,228.23 657.3,228.56 657.6,228.90 657.9,228.23 658.2,228.95 658.5,229.08 658.8,229.53 659.1,228.98 659.4,228.97 659.7,228.60 660.0,228.84 660.3,228.78 660.6,228.83 660.9,228.88 661.2,228.72 661.5,229.13 661.8,229.28 662.1,229.39 662.4,229.17 662.7,229.49 663.0,229.50 663.3,228.80 663.6,229.15 663.9,228.89 664.2,228.97 664.5,229.30 664.8,229.22 665.1,229.66 665.4,229.82 665.6,229.38 665.9,229.22 666.2,229.24 666.5,229.28 666.8,229.45 667.1,229.10 667.4,229.46 667.7,229.24 668.0,229.59 668.3,229.68 668.6,229.78 668.9,229.28 669.2,228.96 669.5,228.87 669.8,229.25"/>
<polyline fill="none" stroke="#7f00ff" stroke-width="1.65" stroke-linejoin="round" points="76.6,458.16 76.9,457.44 77.2,457.38 77.5,456.62 77.8,457.59 78.1,457.49 78.4,457.43 78.7,457.76 79.0,457.82 79.3,457.30 79.6,457.39 79.9,457.56 80.2,458.00 80.5,457.98 80.8,457.33 81.1,457.43 81.3,458.12 81.6,458.44 81.9,457.89 82.2,457.69 82.5,458.35 82.8,457.88 83.1,458.28 83.4,458.60 83.7,458.30 84.0,458.13 84.3,458.39 84.6,457.93 84.9,458.13 85.2,458.02 85.5,458.18 85.8,458.11 86.1,458.24 86.4,458.20 86.7,458.40 87.0,458.42 87.3,458.53 87.6,458.96 87.9,457.94 88.2,458.98 88.5,458.46 88.8,458.14 89.1,458.55 89.4,458.67 89.7,459.05 90.0,458.32 90.3,458.80 90.5,458.80 90.8,458.19 91.1,458.40 91.4,459.06 91.7,459.13 92.0,459.30 92.3,459.13 92.6,459.11 92.9,459.05 93.2,459.46 93.5,458.77 93.8,459.05 94.1,459.27 94.4,458.61 94.7,459.66 95.0,458.95 95.3,459.24 95.6,460.05 95.9,459.04 96.2,459.17 96.5,459.94 96.8,459.05 97.1,459.31 97.4,459.68 97.7,459.69 98.0,459.77 98.3,459.73 98.6,460.11 98.9,460.02 99.2,459.91 99.5,459.50 99.7,459.52 100.0,459.14 100.3,460.08 100.6,459.24 100.9,460.22 101.2,460.59 101.5,459.61 101.8,459.78 102.1,459.89 102.4,460.38 102.7,459.82 103.0,460.12 103.3,460.01 103.6,460.14 103.9,460.72 104.2,459.97 104.5,460.36 104.8,460.47 105.1,460.71 105.4,460.00 105.7,460.87 106.0,460.67 106.3,460.86 106.6,460.61 106.9,460.05 107.2,460.43 107.5,460.98 107.8,460.74 108.1,460.75 108.4,461.42 108.6,461.60 108.9,460.86 109.2,461.58 109.5,460.25 109.8,460.27 110.1,461.32 110.4,460.96 110.7,461.29 111.0,461.30 111.3,461.13 111.6,461.43 111.9,461.28 112.2,460.73 112.5,461.38 112.8,461.40 113.1,462.01 113.4,461.02 113.7,461.45 114.0,461.33 114.3,461.47 114.6,462.12 114.9,461.72 115.2,461.46 115.5,461.71 115.8,461.96 116.1,461.39 116.4,461.67 116.7,462.33 117.0,462.13 117.3,461.86 117.6,461.75 117.8,461.89 118.1,461.45 118.4,462.34 118.7,462.17 119.0,462.14 119.3,461.68 119.6,461.92 119.9,462.38 120.2,462.33 120.5,462.11 120.8,462.49 121.1,462.67 121.4,462.16 121.7,462.24 122.0,462.16 122.3,462.10 122.6,462.81 122.9,462.75 123.2,462.73 123.5,462.25 123.8,462.33 124.1,462.70 124.4,462.62 124.7,462.84 125.0,462.60 125.3,463.10 125.6,463.53 125.9,463.48 126.2,463.54 126.5,463.05 126.8,463.38 127.0,462.97 127.3,463.45 127.6,463.05 127.9,463.05 128.2,463.03 128.5,463.53 128.8,463.42 129.1,463.43 129.4,463.02 129.7,463.49 130.0,462.99 130.3,464.02 130.6,463.51 130.9,463.66 131.2,463.60 131.5,463.13 131.8,463.24 132.1,463.74 132.4,464.29 132.7,463.45 133.0,463.62 133.3,463.88 133.6,463.37 133.9,463.40 134.2,463.87 134.5,464.04 134.8,463.96 135.1,464.64 135.4,464.11 135.7,464.32 135.9,464.78 136.2,464.85 136.5,463.78 136.8,464.23 137.1,464.78 137.4,463.97 137.7,464.16 138.0,464.07 138.3,464.09 138.6,464.20 138.9,464.68 139.2,465.08 139.5,465.21 139.8,464.74 140.1,464.11 140.4,464.79 140.7,464.73 141.0,465.00 141.3,464.88 141.6,464.36 141.9,465.14 142.2,464.34 142.5,464.84 142.8,465.21 143.1,465.26 143.4,465.71 143.7,464.43 144.0,465.37 144.3,465.53 144.6,465.22 144.9,465.58 145.1,465.04 145.4,465.66 145.7,465.66 146.0,465.19 146.3,465.33 146.6,465.53 146.9,465.41 147.2,466.01 147.5,465.76 147.8,466.17 148.1,466.16 148.4,465.83 148.7,465.78 149.0,465.56 149.3,465.65 149.6,465.68 149.9,466.10 150.2,465.73 150.5,466.08 150.8,466.16 151.1,465.96 151.4,466.10 151.7,466.68 152.0,466.77 152.3,466.01 152.6,466.24 152.9,466.22 153.2,466.29 153.5,466.92 153.8,466.67 154.1,466.90 154.3,467.10 154.6,466.41 154.9,466.52 155.2,466.63 155.5,466.99 155.8,466.66 156.1,466.93 156.4,467.14 156.7,467.17 157.0,466.97 157.3,466.59 157.6,466.37 157.9,467.28 158.2,467.09 158.5,466.67 158.8,466.84 159.1,466.89 159.4,466.51 159.7,467.17 160.0,466.86 160.3,467.05 160.6,467.42 160.9,467.17 161.2,467.40 161.5,467.39 161.8,467.29 162.1,467.32 162.4,467.93 162.7,467.29 163.0,467.90 163.3,467.10 163.5,467.66 163.8,467.50 164.1,467.23 164.4,466.62 164.7,468.03 165.0,467.15 165.3,467.24 165.6,467.61 165.9,467.61 166.2,467.70 166.5,467.55 166.8,467.17 167.1,467.96 167.4,467.40 167.7,467.79 168.0,467.93 168.3,468.14 168.6,467.71 168.9,467.70 169.2,467.75 169.5,467.25 169.8,467.62 170.1,467.57 170.4,467.54 170.7,467.99 171.0,467.86 171.3,468.50 171.6,468.49 171.9,467.42 172.2,468.09 172.4,467.76 172.7,468.28 173.0,468.18 173.3,468.45 173.6,468.28 173.9,468.45 174.2,468.13 174.5,467.45 174.8,467.90 175.1,468.03 175.4,468.18 175.7,468.04 176.0,468.92 176.3,468.36 176.6,468.86 176.9,468.36 177.2,469.03 177.5,468.14 177.8,468.75 178.1,468.16 178.4,468.75 178.7,469.15 179.0,468.14 179.3,468.42 179.6,468.80 179.9,468.69 180.2,468.34 180.5,469.18 180.8,468.85 181.1,469.28 181.4,469.00 181.7,468.55 181.9,468.80 182.2,469.42 182.5,468.56 182.8,468.89 183.1,469.26 183.4,469.42 183.7,469.38 184.0,468.68 184.3,469.84 184.6,469.15 184.9,469.24 185.2,469.26 185.5,469.22 185.8,469.01 186.1,469.24 186.4,469.80 186.7,468.97 187.0,468.66 187.3,469.63 187.6,469.60 187.9,469.75 188.2,470.09 188.5,469.34 188.8,469.66 189.1,469.79 189.4,470.05 189.7,470.01 190.0,469.45 190.3,469.31 190.6,469.68 190.8,469.29 191.1,470.17 191.4,469.73 191.7,469.77 192.0,469.62 192.3,470.41 192.6,470.05 192.9,469.85 193.2,470.20 193.5,470.01 193.8,470.25 194.1,470.50 194.4,470.03 194.7,470.30 195.0,470.31 195.3,470.55 195.6,470.40 195.9,470.25 196.2,470.06 196.5,470.38 196.8,469.98 197.1,470.54 197.4,470.37 197.7,470.55 198.0,470.24 198.3,470.17 198.6,470.16 198.9,470.82 199.2,470.42 199.5,470.44 199.8,469.98 200.0,470.54 200.3,469.50 200.6,471.03 200.9,470.55 201.2,470.65 201.5,470.22 201.8,470.35 202.1,470.90 202.4,470.67 202.7,470.89 203.0,471.17 203.3,471.00 203.6,470.23 203.9,470.53 204.2,470.51 204.5,470.60 204.8,470.26 205.1,470.29 205.4,470.72 205.7,470.78 206.0,471.15 206.3,470.91 206.6,471.47 206.9,470.49 207.2,470.64 207.5,471.17 207.8,471.03 208.1,470.83 208.4,471.40 208.7,471.52 209.0,471.61 209.2,471.10 209.5,471.24 209.8,471.34 210.1,471.31 210.4,471.62 210.7,471.18 211.0,471.47 211.3,470.69 211.6,471.63 211.9,471.92 212.2,471.43 212.5,471.78 212.8,470.97 213.1,471.40 213.4,471.05 213.7,471.64 214.0,471.73 214.3,471.16 214.6,471.35 214.9,471.45 215.2,472.39 215.5,471.65 215.8,471.73 216.1,471.82 216.4,471.83 216.7,471.68 217.0,471.37 217.3,471.59 217.6,472.32 217.9,471.92 218.2,471.75 218.4,471.47 218.7,471.88 219.0,471.93 219.3,471.74 219.6,472.23 219.9,471.80 220.2,471.95 220.5,472.28 220.8,472.11 221.1,472.41 221.4,472.01 221.7,471.97 222.0,472.27 222.3,472.21 222.6,472.52 222.9,472.31 223.2,472.19 223.5,472.36 223.8,472.44 224.1,471.92 224.4,472.24 224.7,472.20 225.0,472.68 225.3,472.19 225.6,472.68 225.9,472.00 226.2,472.38 226.5,472.74 226.8,472.36 227.1,472.80 227.3,471.86 227.6,472.50 227.9,472.56 228.2,472.49 228.5,472.10 228.8,472.77 229.1,471.89 229.4,472.90 229.7,472.72 230.0,472.95 230.3,472.59 230.6,472.35 230.9,472.55 231.2,472.59 231.5,472.92 231.8,472.67 232.1,472.91 232.4,472.95 232.7,473.25 233.0,472.24 233.3,472.74 233.6,473.09 233.9,473.11 234.2,472.75 234.5,472.86 234.8,472.93 235.1,473.01 235.4,472.83 235.7,472.82 236.0,472.70 236.3,472.93 236.5,473.48 236.8,472.80 237.1,473.39 237.4,473.70 237.7,473.20 238.0,473.86 238.3,473.13 238.6,473.68 238.9,473.19 239.2,472.86 239.5,473.34 239.8,473.81 240.1,473.09 240.4,473.42 240.7,473.00 241.0,473.04 241.3,473.45 241.6,473.28 241.9,473.51 242.2,473.73 242.5,473.02 242.8,473.18 243.1,473.41 243.4,474.09 243.7,473.32 244.0,473.29 244.3,473.57 244.6,474.08 244.9,473.29 245.2,473.38 245.5,473.50 245.7,473.72 246.0,474.15 246.3,473.15 246.6,473.04 246.9,473.58 247.2,473.70 247.5,472.90 247.8,473.39 248.1,473.86 248.4,473.43 248.7,473.74 249.0,473.66 249.3,473.81 249.6,473.75 249.9,473.71 250.2,474.01 250.5,473.49 250.8,473.70 251.1,474.01 251.4,473.52 251.7,473.59 252.0,473.48 252.3,473.44 252.6,474.32 252.9,473.87 253.2,474.29 253.5,473.97 253.8,473.79 254.1,473.69 254.4,473.86 254.7,473.78 254.9,474.07 255.2,473.56 255.5,473.87 255.8,473.96 256.1,473.77 256.4,473.78 256.7,474.01 257.0,474.03 257.3,473.84 257.6,473.88 257.9,473.73 258.2,474.06 258.5,473.87 258.8,473.46 259.1,473.83 259.4,474.11 259.7,474.01 260.0,473.66 260.3,474.11 260.6,474.06 260.9,474.05 261.2,474.30 261.5,473.74 261.8,473.95 262.1,473.60 262.4,473.86 262.7,473.81 263.0,473.41 263.3,473.19 263.6,472.35 263.8,472.01 264.1,470.30 264.4,468.05 264.7,464.85 265.0,456.83 265.3,444.41 265.6,435.52 265.9,411.25 266.1,403.31 266.2,408.55 266.5,433.41 266.8,443.34 267.1,455.69 267.4,463.74 267.7,467.38 268.0,469.89 268.3,472.12 268.6,472.51 268.9,473.14 269.2,472.82 269.5,473.03 269.8,473.95 270.1,473.39 270.4,473.76 270.7,473.85 271.0,473.71 271.3,474.05 271.6,473.61 271.9,473.70 272.2,474.33 272.5,473.85 272.8,474.31 273.0,474.29 273.3,474.54 273.6,474.24 273.9,473.58 274.2,473.93 274.5,474.00 274.8,474.47 275.1,474.22 275.4,473.98 275.7,474.25 276.0,474.02 276.3,474.29 276.6,474.18 276.9,474.45 277.2,474.23 277.5,474.42 277.8,474.14 278.1,474.35 278.4,474.10 278.7,474.33 279.0,474.21 279.3,474.12 279.6,474.03 279.9,474.08 280.2,474.29 280.5,473.50 280.8,474.52 281.1,473.49 281.4,474.11 281.7,474.07 282.0,474.38 282.2,474.24 282.5,474.16 282.8,474.20 283.1,474.45 283.4,474.79 283.7,474.17 284.0,473.41 284.3,473.82 284.6,474.00 284.9,474.77 285.2,473.49 285.5,473.30 285.8,473.27 286.1,472.90 286.4,472.02 286.7,471.82 287.0,470.29 287.3,468.64 287.6,466.93 287.9,457.94 288.2,449.78 288.5,435.22 288.8,404.04 289.1,372.05 289.4,325.94 289.6,272.20 289.7,272.93 290.0,336.76 290.3,375.21 290.6,407.55 290.9,437.50 291.1,450.63 291.4,459.10 291.7,466.60 292.0,468.33 292.3,469.80 292.6,471.07 292.9,471.41 293.2,470.61 293.5,470.50 293.8,469.90 294.1,468.50 294.4,466.95 294.7,464.69 295.0,463.31 295.3,461.21 295.6,461.05 295.9,460.09 296.0,460.56 296.2,460.06 296.5,461.41 296.8,461.96 297.1,464.03 297.4,466.14 297.7,467.79 298.0,469.18 298.3,469.97 298.6,471.84 298.9,472.38 299.2,473.02 299.5,473.35 299.8,472.89 300.1,472.97 300.4,473.42 300.6,472.16 300.9,471.77 301.2,470.61 301.5,469.77 301.8,466.99 302.1,460.81 302.4,451.44 302.7,440.15 303.0,412.68 303.3,376.94 303.6,347.55 303.9,272.11 304.0,259.63 304.2,291.49 304.5,359.65 304.8,392.45 305.1,426.13 305.4,446.04 305.7,455.61 306.0,466.13 306.3,467.78 306.6,469.88 306.9,471.31 307.2,472.20 307.5,473.10 307.8,472.91 308.1,473.47 308.4,473.79 308.7,473.61 309.0,473.69 309.3,474.34 309.5,474.44 309.8,474.13 310.1,474.87 310.4,474.77 310.7,474.65 311.0,474.70 311.3,474.64 311.6,474.76 311.9,474.81 312.2,474.59 312.5,473.99 312.8,474.54 313.1,474.36 313.4,474.27 313.7,474.79 314.0,474.12 314.3,474.88 314.6,474.47 314.9,474.31 315.2,474.42 315.5,475.35 315.8,475.12 316.1,474.62 316.4,475.02 316.7,475.24 317.0,474.49 317.3,474.67 317.6,475.03 317.9,474.89 318.2,474.68 318.5,475.26 318.7,474.95 319.0,475.05 319.3,475.51 319.6,474.98 319.9,475.61 320.2,474.95 320.5,474.83 320.8,474.93 321.1,475.15 321.4,475.10 321.7,475.03 322.0,474.51 322.3,474.63 322.6,474.88 322.9,475.18 323.2,475.39 323.5,474.31 323.8,474.96 324.1,474.88 324.4,474.99 324.7,475.09 325.0,474.80 325.3,474.68 325.6,475.36 325.9,475.29 326.2,474.97 326.5,475.07 326.8,474.92 327.1,474.72 327.4,475.32 327.7,474.96 327.9,474.84 328.2,475.00 328.5,475.65 328.8,475.32 329.1,475.27 329.4,475.24 329.7,475.47 330.0,475.44 330.3,474.88 330.6,475.19 330.9,475.08 331.2,475.34 331.5,475.27 331.8,474.73 332.1,475.64 332.4,475.40 332.7,474.84 333.0,475.67 333.3,475.39 333.6,475.50 333.9,475.39 334.2,475.43 334.5,475.26 334.8,474.94 335.1,475.25 335.4,475.48 335.7,475.45 336.0,475.64 336.3,475.44 336.6,474.84 336.9,475.69 337.1,475.27 337.4,475.13 337.7,475.43 338.0,475.14 338.3,475.64 338.6,475.29 338.9,476.11 339.2,475.50 339.5,475.42 339.8,475.41 340.1,474.99 340.4,475.37 340.7,475.41 341.0,475.54 341.3,475.02 341.6,475.67 341.9,476.03 342.2,475.56 342.5,475.68 342.8,475.82 343.1,475.49 343.4,475.60 343.7,476.01 344.0,475.80 344.3,475.42 344.6,475.27 344.9,476.43 345.2,475.92 345.5,475.36 345.8,475.86 346.0,476.02 346.3,475.88 346.6,475.33 346.9,476.37 347.2,476.05 347.5,475.83 347.8,476.09 348.1,475.85 348.4,475.83 348.7,476.18 349.0,475.39 349.3,476.24 349.6,476.08 349.9,476.19 350.2,476.24 350.5,476.43 350.8,476.41 351.1,476.27 351.4,475.92 351.7,476.24 352.0,475.92 352.3,475.80 352.6,476.20 352.9,476.19 353.2,476.43 353.5,475.51 353.8,476.28 354.1,476.32 354.4,476.17 354.7,476.56 355.0,475.92 355.2,476.26 355.5,476.08 355.8,476.18 356.1,475.93 356.4,476.17 356.7,476.41 357.0,476.26 357.3,476.33 357.6,476.04 357.9,476.70 358.2,476.07 358.5,476.28 358.8,476.45 359.1,476.25 359.4,476.52 359.7,476.37 360.0,476.80 360.3,476.49 360.6,476.46 360.9,476.13 361.2,476.49 361.5,476.65 361.8,476.50 362.1,476.13 362.4,476.25 362.7,476.35 363.0,476.43 363.3,476.05 363.6,476.96 363.9,476.42 364.2,476.49 364.4,476.34 364.7,476.46 365.0,477.01 365.3,476.23 365.6,476.36 365.9,476.23 366.2,476.37 366.5,476.95 366.8,476.37 367.1,476.42 367.4,476.06 367.7,476.47 368.0,476.64 368.3,476.45 368.6,476.49 368.9,476.82 369.2,476.76 369.5,476.60 369.8,476.42 370.1,476.23 370.4,477.11 370.7,476.24 371.0,476.85 371.3,476.63 371.6,476.49 371.9,476.94 372.2,476.51 372.5,477.06 372.8,476.45 373.1,476.87 373.4,477.09 373.6,476.49 373.9,477.34 374.2,477.01 374.5,476.18 374.8,477.17 375.1,477.32 375.4,476.74 375.7,476.77 376.0,476.93 376.3,476.32 376.6,476.89 376.9,477.11 377.2,476.72 377.5,477.18 377.8,477.48 378.1,476.36 378.4,476.41 378.7,476.72 379.0,477.09 379.3,477.03 379.6,476.69 379.9,476.64 380.2,476.76 380.5,477.42 380.8,476.71 381.1,476.82 381.4,477.25 381.7,476.93 382.0,476.74 382.3,477.40 382.5,477.12 382.8,476.85 383.1,476.94 383.4,477.30 383.7,476.96 384.0,477.14 384.3,477.32 384.6,477.35 384.9,476.59 385.2,476.97 385.5,477.01 385.8,477.14 386.1,477.33 386.4,477.44 386.7,477.01 387.0,476.84 387.3,477.20 387.6,476.99 387.9,477.62 388.2,477.25 388.5,477.18 388.8,477.43 389.1,476.99 389.4,477.08 389.7,477.12 390.0,477.35 390.3,477.52 390.6,477.38 390.9,477.37 391.2,477.10 391.5,477.26 391.7,477.09 392.0,477.45 392.3,476.96 392.6,477.10 392.9,477.17 393.2,477.30 393.5,476.87 393.8,476.98 394.1,476.79 394.4,476.61 394.7,477.22 395.0,476.99 395.3,476.39 395.6,476.45 395.9,476.75 396.2,476.29 396.5,475.97 396.8,476.30 397.1,475.34 397.4,474.52 397.7,473.36 398.0,470.72 398.3,467.63 398.6,463.51 398.9,459.40 399.2,456.03 399.3,456.28 399.5,456.57 399.8,460.17 400.1,464.02 400.4,467.88 400.7,471.08 400.9,473.11 401.2,474.78 401.5,475.57 401.8,476.30 402.1,476.37 402.4,476.32 402.7,476.97 403.0,476.69 403.3,476.97 403.6,477.37 403.9,477.38 404.2,476.89 404.5,477.10 404.8,477.53 405.1,477.47 405.4,477.38 405.7,477.50 406.0,476.71 406.3,477.23 406.6,476.94 406.9,477.17 407.2,477.25 407.5,477.50 407.8,477.69 408.1,477.60 408.4,477.48 408.7,477.32 409.0,477.76 409.3,477.50 409.6,476.97 409.9,477.43 410.1,477.59 410.4,477.21 410.7,477.53 411.0,477.88 411.3,477.41 411.6,477.47 411.9,477.48 412.2,477.24 412.5,477.38 412.8,477.24 413.1,477.44 413.4,477.31 413.7,477.78 414.0,477.50 414.3,477.76 414.6,477.21 414.9,477.54 415.2,477.70 415.5,477.74 415.8,477.40 416.1,477.54 416.4,477.60 416.7,477.48 417.0,477.47 417.3,477.72 417.6,477.27 417.9,477.11 418.2,477.47 418.5,477.68 418.8,477.00 419.1,477.97 419.3,477.64 419.6,477.77 419.9,477.40 420.2,477.62 420.5,478.12 420.8,478.13 421.1,477.81 421.4,477.58 421.7,477.62 422.0,478.01 422.3,477.47 422.6,477.42 422.9,477.63 423.2,477.91 423.5,477.39 423.8,477.77 424.1,477.78 424.4,477.72 424.7,477.65 425.0,477.94 425.3,477.85 425.6,477.31 425.9,478.13 426.2,477.83 426.5,477.79 426.8,477.62 427.1,477.64 427.4,477.05 427.7,477.66 428.0,477.88 428.2,477.89 428.5,477.55 428.8,477.10 429.1,477.43 429.4,477.65 429.7,478.07 430.0,477.31 430.3,477.75 430.6,477.90 430.9,477.91 431.2,477.73 431.5,477.02 431.8,477.91 432.1,477.79 432.4,477.90 432.7,477.51 433.0,477.64 433.3,478.16 433.6,477.75 433.9,477.77 434.2,477.59 434.5,478.11 434.8,477.35 435.1,477.65 435.4,477.90 435.7,477.78 436.0,478.02 436.3,477.91 436.6,478.18 436.9,477.74 437.2,477.77 437.4,477.88 437.7,477.34 438.0,478.18 438.3,477.57 438.6,478.11 438.9,478.20 439.2,478.09 439.5,477.87 439.8,477.66 440.1,477.27 440.4,477.98 440.7,477.77 441.0,478.28 441.3,477.76 441.6,478.00 441.9,477.73 442.2,477.95 442.5,477.75 442.8,477.80 443.1,477.35 443.4,477.66 443.7,477.81 444.0,478.18 444.3,477.92 444.6,477.53 444.9,478.27 445.2,477.95 445.5,478.15 445.8,477.62 446.1,477.00 446.4,477.66 446.6,477.59 446.9,477.93 447.2,477.46 447.5,477.63 447.8,477.51 448.1,477.90 448.4,477.63 448.7,478.23 449.0,478.08 449.3,478.10 449.6,477.82 449.9,477.94 450.2,478.11 450.5,477.66 450.8,478.21 451.1,477.87 451.4,478.22 451.7,478.48 452.0,478.30 452.3,477.61 452.6,478.21 452.9,477.81 453.2,477.78 453.5,477.83 453.8,477.59 454.1,477.96 454.4,477.71 454.7,478.19 455.0,477.98 455.3,477.22 455.6,477.65 455.8,477.64 456.1,477.72 456.4,477.73 456.7,477.96 457.0,477.86 457.3,477.62 457.6,478.02 457.9,478.14 458.2,477.91 458.5,478.21 458.8,478.02 459.1,477.76 459.4,477.80 459.7,477.90 460.0,478.04 460.3,477.95 460.6,478.16 460.9,478.20 461.2,477.64 461.5,477.60 461.8,477.87 462.1,478.01 462.4,478.13 462.7,478.06 463.0,478.05 463.3,477.65 463.6,477.98 463.9,477.72 464.2,477.99 464.5,478.11 464.7,477.70 465.0,477.80 465.3,478.49 465.6,477.66 465.9,477.72 466.2,477.56 466.5,477.46 466.8,478.08 467.1,477.64 467.4,477.64 467.7,477.58 468.0,477.04 468.3,477.94 468.6,477.59 468.9,477.69 469.2,478.03 469.5,477.61 469.8,477.65 470.1,477.62 470.4,477.85 470.7,477.10 471.0,477.20 471.3,476.65 471.6,477.03 471.9,476.91 472.2,476.24 472.5,476.33 472.8,475.33 473.1,474.63 473.4,472.94 473.7,471.96 473.9,469.70 474.2,468.26 474.5,466.52 474.8,464.95 475.1,464.64 475.4,464.25 475.4,463.66 475.7,464.51 476.0,465.40 476.3,466.89 476.6,468.71 476.9,470.10 477.2,471.88 477.5,473.30 477.8,474.21 478.1,475.16 478.4,476.22 478.7,476.52 479.0,477.49 479.3,477.68 479.6,477.12 479.9,477.52 480.2,477.01 480.5,477.43 480.8,477.42 481.1,477.50 481.4,477.18 481.7,477.83 482.0,477.83 482.3,477.61 482.6,477.82 482.9,478.09 483.1,478.28 483.4,477.55 483.7,478.31 484.0,477.48 484.3,477.72 484.6,477.84 484.9,478.35 485.2,478.12 485.5,478.12 485.8,478.38 486.1,478.05 486.4,477.88 486.7,478.38 487.0,477.95 487.3,477.69 487.6,477.58 487.9,478.07 488.2,478.51 488.5,478.23 488.8,478.06 489.1,478.36 489.4,477.67 489.7,478.17 490.0,477.93 490.3,478.41 490.6,477.86 490.9,478.28 491.2,478.13 491.5,478.08 491.8,478.26 492.1,478.05 492.3,478.45 492.6,478.04 492.9,477.55 493.2,478.46 493.5,478.44 493.8,478.23 494.1,478.46 494.4,478.28 494.7,477.90 495.0,477.60 495.3,477.85 495.6,478.05 495.9,478.25 496.2,477.77 496.5,477.90 496.8,478.51 497.1,477.96 497.4,477.95 497.7,477.90 498.0,478.55 498.3,478.34 498.6,478.37 498.9,478.56 499.2,478.39 499.5,478.49 499.8,478.24 500.1,478.37 500.4,478.31 500.7,478.33 501.0,477.87 501.2,478.11 501.5,478.07 501.8,478.00 502.1,478.16 502.4,478.62 502.7,478.41 503.0,478.20 503.3,478.26 503.6,478.53 503.9,477.88 504.2,478.28 504.5,478.60 504.8,478.64 505.1,478.41 505.4,478.33 505.7,477.74 506.0,478.01 506.3,478.18 506.6,478.29 506.9,478.30 507.2,477.63 507.5,478.07 507.8,478.27 508.1,478.01 508.4,478.15 508.7,478.33 509.0,478.28 509.3,478.25 509.6,478.39 509.9,478.49 510.2,478.14 510.4,477.95 510.7,478.04 511.0,478.09 511.3,478.21 511.6,477.85 511.9,478.03 512.2,478.16 512.5,478.56 512.8,478.35 513.1,478.19 513.4,478.44 513.7,478.27 514.0,478.28 514.3,478.49 514.6,478.31 514.9,478.27 515.2,478.41 515.5,478.09 515.8,478.24 516.1,477.71 516.4,478.12 516.7,478.61 517.0,478.14 517.3,478.22 517.6,478.12 517.9,477.97 518.2,478.34 518.5,478.21 518.8,478.48 519.1,477.99 519.4,478.21 519.6,478.11 519.9,478.05 520.2,478.45 520.5,478.00 520.8,478.00 521.1,478.79 521.4,478.14 521.7,478.10 522.0,478.25 522.3,477.87 522.6,478.19 522.9,477.80 523.2,477.95 523.5,477.91 523.8,478.36 524.1,478.15 524.4,478.42 524.7,478.34 525.0,477.71 525.3,477.95 525.6,477.63 525.9,477.48 526.2,477.79 526.5,477.65 526.8,477.05 527.1,476.72 527.4,476.19 527.7,475.52 528.0,474.64 528.3,473.19 528.5,472.31 528.8,470.48 529.1,468.72 529.4,467.35 529.7,465.91 530.0,464.77 530.3,463.79 530.6,463.50 530.6,463.23 530.9,463.92 531.2,464.82 531.5,466.20 531.8,467.51 532.1,469.83 532.4,471.18 532.7,472.62 533.0,473.74 533.3,474.69 533.6,475.85 533.9,475.94 534.2,476.65 534.5,477.06 534.8,477.54 535.1,477.51 535.4,478.07 535.7,477.40 536.0,478.29 536.3,478.04 536.6,478.25 536.9,477.93 537.2,478.35 537.5,478.05 537.8,478.22 538.0,477.82 538.3,478.33 538.6,478.25 538.9,477.78 539.2,478.23 539.5,478.19 539.8,478.49 540.1,478.13 540.4,478.36 540.7,478.63 541.0,478.12 541.3,478.80 541.6,478.41 541.9,478.30 542.2,478.03 542.5,477.94 542.8,478.61 543.1,478.27 543.4,478.24 543.7,478.66 544.0,478.57 544.3,478.44 544.6,478.06 544.9,477.94 545.2,478.65 545.5,478.41 545.8,478.37 546.1,478.90 546.4,478.33 546.7,478.53 546.9,478.96 547.2,478.59 547.5,478.31 547.8,478.24 548.1,478.75 548.4,478.15 548.7,478.66 549.0,478.85 549.3,478.43 549.6,478.66 549.9,478.47 550.2,478.80 550.5,478.52 550.8,478.28 551.1,478.54 551.4,478.48 551.7,478.30 552.0,478.38 552.3,478.14 552.6,478.23 552.9,478.57 553.2,477.96 553.5,478.46 553.8,478.38 554.1,478.20 554.4,478.65 554.7,478.44 555.0,478.06 555.3,478.18 555.6,478.26 555.9,477.53 556.1,477.82 556.4,477.53 556.7,477.48 557.0,477.66 557.3,476.73 557.6,476.53 557.9,476.03 558.2,476.10 558.5,475.95 558.8,474.97 559.1,475.80 559.4,475.77 559.5,474.70 559.7,475.01 560.0,475.61 560.3,475.69 560.6,476.18 560.9,476.09 561.2,476.76 561.5,476.38 561.8,477.09 562.1,477.13 562.4,477.34 562.7,477.22 563.0,477.71 563.3,478.28 563.6,477.90 563.9,478.08 564.2,478.24 564.5,478.02 564.8,478.35 565.1,478.44 565.3,478.27 565.6,477.89 565.9,478.70 566.2,478.35 566.5,478.32 566.8,478.27 567.1,478.16 567.4,477.89 567.7,478.25 568.0,478.27 568.3,478.43 568.6,478.54 568.9,477.91 569.2,478.39 569.5,477.91 569.8,477.86 570.1,477.25 570.4,477.27 570.7,476.54 571.0,476.38 571.3,475.21 571.6,474.66 571.9,473.52 572.2,472.54 572.5,471.24 572.8,469.91 573.1,468.47 573.4,467.76 573.7,466.92 574.0,466.23 574.0,466.64 574.2,466.43 574.5,467.26 574.8,468.19 575.1,469.40 575.4,470.93 575.7,471.54 576.0,473.53 576.3,473.82 576.6,475.48 576.9,476.04 577.2,476.12 577.5,477.00 577.8,477.15 578.1,477.15 578.4,477.86 578.7,477.90 579.0,477.72 579.3,477.97 579.6,477.48 579.9,477.18 580.2,477.28 580.5,476.41 580.8,476.31 581.1,475.79 581.4,474.87 581.7,474.04 582.0,473.26 582.3,472.29 582.6,471.14 582.9,469.57 583.2,469.71 583.4,469.05 583.7,469.59 583.7,469.22 584.0,469.62 584.3,470.27 584.6,471.08 584.9,471.45 585.2,473.18 585.5,473.80 585.8,474.61 586.1,475.03 586.4,476.45 586.7,476.70 587.0,477.30 587.3,477.34 587.6,478.17 587.9,478.30 588.2,478.09 588.5,478.73 588.8,478.10 589.1,478.63 589.4,478.63 589.7,478.69 590.0,478.39 590.3,478.51 590.6,478.85 590.9,478.90 591.2,478.65 591.5,478.62 591.8,478.57 592.1,479.03 592.4,478.69 592.6,478.61 592.9,478.30 593.2,478.34 593.5,478.50 593.8,478.30 594.1,478.69 594.4,478.72 594.7,478.57 595.0,478.71 595.3,478.80 595.6,478.41 595.9,479.00 596.2,478.19 596.5,479.30 596.8,478.50 597.1,478.86 597.4,478.78 597.7,478.96 598.0,478.70 598.3,479.01 598.6,478.51 598.9,479.07 599.2,478.83 599.5,478.99 599.8,479.14 600.1,478.63 600.4,478.77 600.7,478.74 601.0,478.90 601.3,478.96 601.6,479.10 601.8,478.98 602.1,478.90 602.4,479.07 602.7,479.18 603.0,479.17 603.3,479.44 603.6,478.80 603.9,479.01 604.2,478.64 604.5,478.80 604.8,479.11 605.1,479.26 605.4,478.85 605.7,479.08 606.0,478.99 606.3,479.09 606.6,479.03 606.9,478.87 607.2,478.46 607.5,478.63 607.8,479.07 608.1,478.96 608.4,479.47 608.7,478.99 609.0,479.19 609.3,478.70 609.6,478.64 609.9,479.01 610.2,479.34 610.5,479.04 610.8,478.85 611.0,479.00 611.3,479.02 611.6,478.94 611.9,478.78 612.2,478.46 612.5,478.36 612.8,478.40 613.1,478.36 613.4,477.94 613.7,478.46 614.0,478.05 614.3,477.59 614.6,477.71 614.9,477.92 615.2,477.24 615.5,477.10 615.8,477.20 616.1,476.61 616.1,476.80 616.4,476.78 616.7,477.23 617.0,476.79 617.3,477.43 617.6,477.43 617.9,477.68 618.2,477.81 618.5,478.47 618.8,478.10 619.1,478.17 619.4,478.65 619.7,478.56 619.9,478.91 620.2,478.85 620.5,478.93 620.8,478.99 621.1,478.62 621.4,478.58 621.7,479.53 622.0,478.82 622.3,479.22 622.6,478.86 622.9,479.10 623.2,479.07 623.5,479.48 623.8,479.10 624.1,478.81 624.4,478.84 624.7,479.24 625.0,479.38 625.3,479.64 625.6,479.67 625.9,478.87 626.2,479.17 626.5,478.92 626.8,479.27 627.1,479.40 627.4,478.80 627.7,479.42 628.0,479.39 628.3,479.17 628.6,479.10 628.9,479.62 629.1,479.21 629.4,479.00 629.7,479.28 630.0,479.49 630.3,479.41 630.6,478.81 630.9,478.95 631.2,479.17 631.5,479.30 631.8,479.31 632.1,478.99 632.4,479.49 632.7,479.39 633.0,478.93 633.3,479.07 633.6,479.27 633.9,478.95 634.2,479.31 634.5,479.34 634.8,479.21 635.1,479.44 635.4,479.72 635.7,479.17 636.0,479.43 636.3,479.22 636.6,479.67 636.9,479.61 637.2,479.33 637.5,479.19 637.8,479.51 638.1,479.33 638.3,479.07 638.6,479.12 638.9,479.31 639.2,479.84 639.5,479.60 639.8,479.67 640.1,479.58 640.4,479.68 640.7,479.71 641.0,479.12 641.3,479.51 641.6,479.52 641.9,479.49 642.2,479.48 642.5,478.82 642.8,479.43 643.1,479.09 643.4,479.61 643.7,479.28 644.0,479.34 644.3,479.39 644.6,478.94 644.9,479.36 645.2,479.11 645.5,479.61 645.8,479.27 646.1,479.13 646.4,479.66 646.7,479.30 647.0,479.14 647.2,479.31 647.5,479.27 647.8,479.33 648.1,479.01 648.4,479.43 648.7,479.20 649.0,479.41 649.3,479.08 649.6,478.63 649.9,478.97 650.2,478.53 650.5,478.46 650.8,477.71 651.1,477.81 651.4,478.22 651.7,477.98 652.0,477.15 652.3,477.47 652.6,477.33 652.9,477.44 653.2,476.83 653.5,476.66 653.5,477.13 653.8,476.94 654.1,477.03 654.4,477.07 654.7,477.71 655.0,477.40 655.3,478.00 655.6,478.12 655.9,478.02 656.2,478.58 656.5,478.82 656.7,478.79 657.0,478.81 657.3,479.17 657.6,478.95 657.9,479.33 658.2,479.66 658.5,479.09 658.8,479.05 659.1,479.67 659.4,479.36 659.7,479.49 660.0,479.66 660.3,479.51 660.6,479.70 660.9,479.47 661.2,479.59 661.5,479.70 661.8,479.86 662.1,479.66 662.4,479.84 662.7,479.91 663.0,479.90 663.3,479.77 663.6,480.09 663.9,479.64 664.2,480.05 664.5,480.05 664.8,480.04 665.1,479.73 665.4,480.07 665.6,479.97 665.9,479.62 666.2,479.81 666.5,479.59 666.8,479.97 667.1,480.20 667.4,480.11 667.7,479.69 668.0,479.69 668.3,479.88 668.6,479.89 668.9,480.09 669.2,479.86 669.5,480.19 669.8,479.83"/>
<!-- legend lines -->
<line x1="92" y1="32.1" x2="141" y2="32.1" stroke="#a400cc" stroke-width="1.9"/>
<line x1="90.5" y1="256.3" x2="139" y2="256.3" stroke="#7f00ff" stroke-width="1.9"/>
<!-- legend text -->
<g>
<text font-size="20.7" transform="translate(146.6,38.9) scale(1,1.04)">HAZ</text>
<text font-size="21.5" transform="translate(143.5,263.9) scale(1,1.09)">WM</text>
</g>
<g font-size="21.5">
<text x="609.4" y="45.1">β-Ti</text>
<text x="609.4" y="74.4">α'-Ti</text>
<text x="608.6" y="270.4">β-Ti</text>
<text x="608.6" y="298.3">α'-Ti</text>
</g>
<!-- peak markers -->
<text class="sym" font-size="18.0" x="266.9" y="127.3">♣</text>
<text class="sym" font-size="18.0" transform="translate(289.4,149.1) scale(1.03,0.95)">♦</text>
<text class="sym" font-size="18.0" x="304.6" y="20.6">♣</text>
<text class="sym" font-size="18.0" x="399.1" y="194.8">♣</text>
<text class="sym" font-size="18.0" x="475.0" y="209.2">♣</text>
<text class="sym" font-size="18.0" x="266.6" y="398.1">♣</text>
<text class="sym" font-size="18.0" transform="translate(288.3,265.9) scale(1.03,0.95)">♦</text>
<text class="sym" font-size="18.0" x="304.4" y="254.6">♣</text>
<text class="sym" font-size="18.0" x="399.7" y="454.4">♣</text>
<text class="sym" font-size="18.0" x="476.5" y="460.7">♣</text>
<text class="sym" font-size="18.0" transform="translate(594.4,46.3) scale(1.03,0.95)">♦</text>
<text class="sym" font-size="18.0" x="594.2" y="74.9">♣</text>
<text class="sym" font-size="18.0" transform="translate(593.4,271.9) scale(1.03,0.95)">♦</text>
<text class="sym" font-size="18.0" x="593.0" y="299.9">♣</text>
<!-- axis text -->
<g font-size="16.8" text-anchor="middle">
<text transform="translate(76.20,509.7) scale(1,1.17)">10</text>
<text transform="translate(113.29,509.7) scale(1,1.17)">15</text>
<text transform="translate(150.39,509.7) scale(1,1.17)">20</text>
<text transform="translate(187.48,509.7) scale(1,1.17)">25</text>
<text transform="translate(224.57,509.7) scale(1,1.17)">30</text>
<text transform="translate(261.67,509.7) scale(1,1.17)">35</text>
<text transform="translate(298.76,509.7) scale(1,1.17)">40</text>
<text transform="translate(335.86,509.7) scale(1,1.17)">45</text>
<text transform="translate(372.95,509.7) scale(1,1.17)">50</text>
<text transform="translate(410.04,509.7) scale(1,1.17)">55</text>
<text transform="translate(447.14,509.7) scale(1,1.17)">60</text>
<text transform="translate(484.23,509.7) scale(1,1.17)">65</text>
<text transform="translate(521.33,509.7) scale(1,1.17)">70</text>
<text transform="translate(558.42,509.7) scale(1,1.17)">75</text>
<text transform="translate(595.51,509.7) scale(1,1.17)">80</text>
<text transform="translate(632.61,509.7) scale(1,1.17)">85</text>
<text transform="translate(669.70,509.7) scale(1,1.17)">90</text>
</g>
<text font-size="21.7" text-anchor="middle" x="372.5" y="528.6">2θ/degree</text>
<text font-size="21.4" text-anchor="middle" transform="translate(58.3,119.2) rotate(-90)">Intensity</text>
<text font-size="21.4" text-anchor="middle" transform="translate(58.3,357.9) rotate(-90)">Intensity</text>
</svg>
<div class="cap" id="cap-cn"><span class="tu">图</span><b> 4</b>  <span class="zh">热影响区与焊缝区的</span> XRD <span class="zh">衍射光谱</span></div>
<div class="cap" id="cap-en"><b>Figure 4</b> XRD diffraction spectra of heat affected zone and weld zone</div>
</body>
</html>
